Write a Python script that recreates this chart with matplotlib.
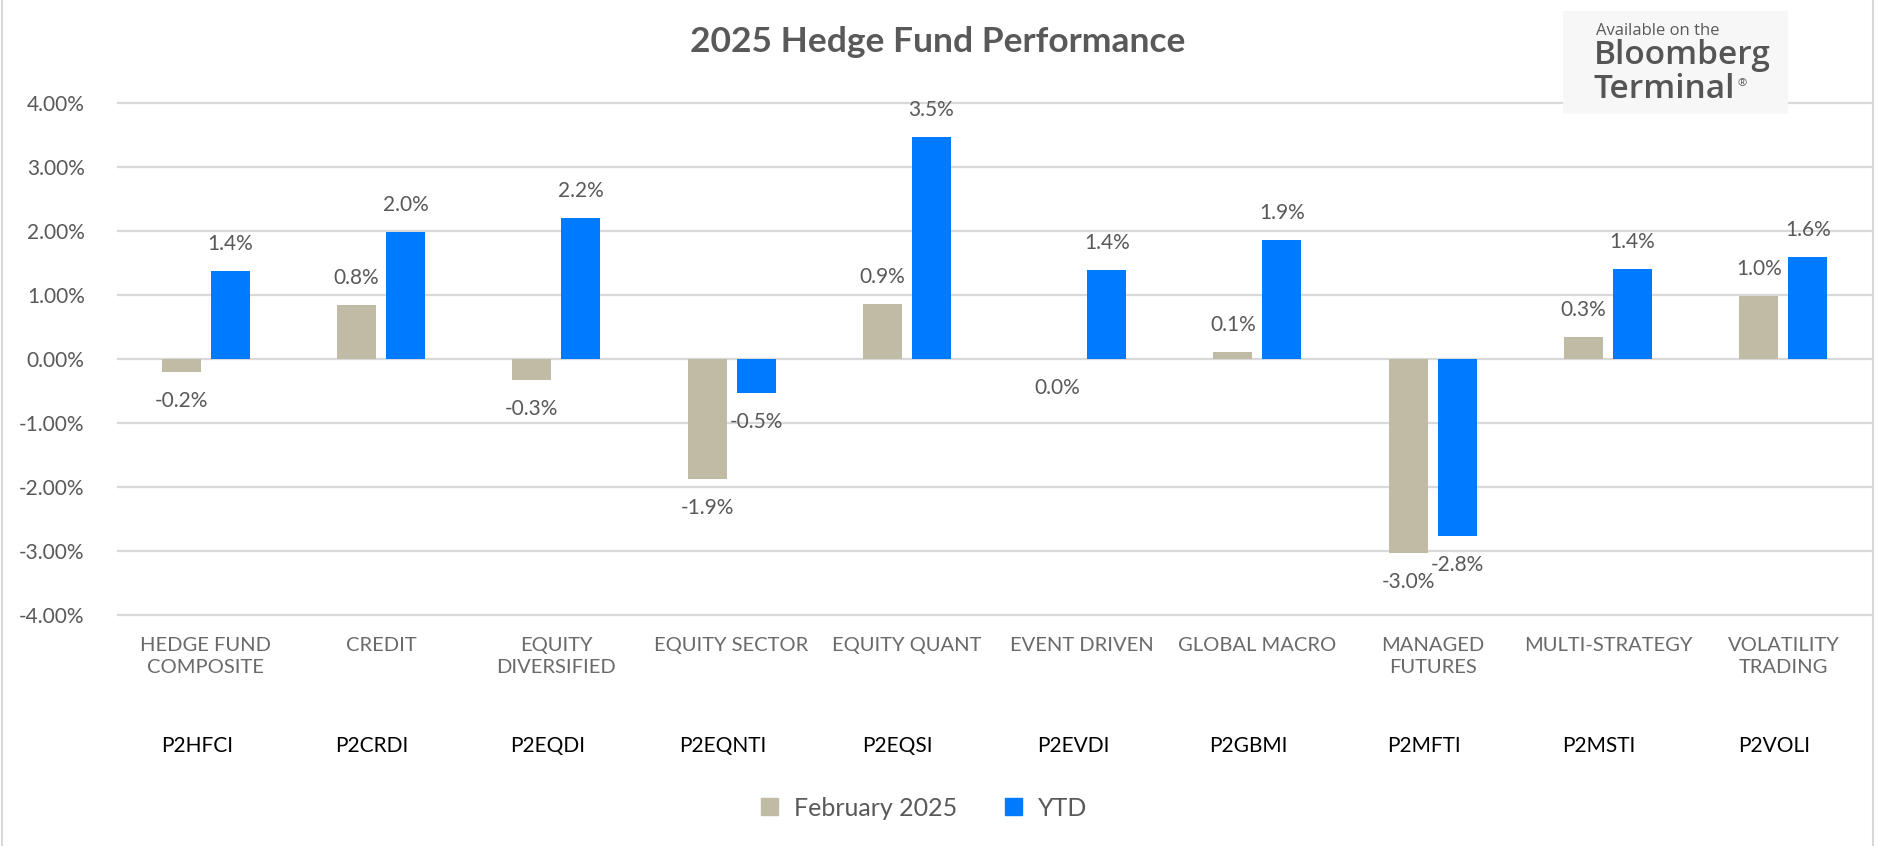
import matplotlib
matplotlib.use("Agg")
import matplotlib.pyplot as plt
import numpy as np
from matplotlib.transforms import blended_transform_factory, ScaledTranslation
from matplotlib.patches import Rectangle, Patch
from matplotlib.lines import Line2D

plt.rcParams['font.family'] = ['Lato', 'DejaVu Sans']

# ---- data ----
categories = ["HEDGE FUND\nCOMPOSITE", "CREDIT", "EQUITY\nDIVERSIFIED", "EQUITY SECTOR",
              "EQUITY QUANT", "EVENT DRIVEN", "GLOBAL MACRO", "MANAGED\nFUTURES",
              "MULTI-STRATEGY", "VOLATILITY\nTRADING"]
tickers = ["P2HFCI", "P2CRDI", "P2EQDI", "P2EQNTI", "P2EQSI", "P2EVDI", "P2GBMI",
           "P2MFTI", "P2MSTI", "P2VOLI"]
feb_2025 = [-0.20, 0.84, -0.33, -1.88, 0.86, 0.0, 0.11, -3.03, 0.34, 0.98]
ytd = [1.37, 1.98, 2.20, -0.53, 3.47, 1.39, 1.86, -2.76, 1.41, 1.59]
yticks = [4, 3, 2, 1, 0, -1, -2, -3, -4]
series_names = ["February 2025", "YTD"]

W, H, DPI = 1878, 846, 100
fig = plt.figure(figsize=(W / DPI, H / DPI), dpi=DPI)
fig.patch.set_facecolor("white")

def fx(px):
    return px / W

def fy(py):
    return (H - py) / H

ax = fig.add_axes([fx(118), fy(615), fx(1871) - fx(118), fy(103) - fy(615)])
ax.set_facecolor("white")

FEB_C = "#C0BBA5"
YTD_C = "#007AFF"
GRID_C = "#D9D9D9"
TXT_C = "#595959"

x = np.arange(len(categories))
bw = 0.2225
off = 0.14

for t in yticks:
    ax.axhline(t, color=GRID_C, lw=1.6, zorder=1, clip_on=False)

b1 = ax.bar(x - off, feb_2025, width=bw, color=FEB_C, zorder=2, label=series_names[0])
b2 = ax.bar(x + off, ytd, width=bw, color=YTD_C, zorder=2, label=series_names[1])

ax.set_xlim(-0.5, len(categories) - 0.5)
ax.set_ylim(-4, 4)
for s in ax.spines.values():
    s.set_visible(False)

ax.set_yticks(yticks)
ax.set_yticklabels([f"{t:.2f}%" for t in yticks], fontsize=15, color=TXT_C)
ax.tick_params(axis="y", length=0, pad=24)

ax.set_xticks(x)
ax.set_xticklabels(categories, fontsize=14.5, color="#6a6a6a", linespacing=1.35)
ax.tick_params(axis="x", length=0, pad=16)

# data labels
for bars, vals in ((b1, feb_2025), (b2, ytd)):
    for rect, v in zip(bars, vals):
        cx = rect.get_x() + rect.get_width() / 2
        if v > 0:
            ax.annotate(f"{v:.1f}%", (cx, v), xytext=(0, 19.5), textcoords="offset points",
                        ha="center", va="center", fontsize=15, color=TXT_C, zorder=4)
        else:
            ax.annotate(f"{v:.1f}%", (cx, v), xytext=(0, -21), textcoords="offset points",
                        ha="center", va="center", fontsize=15, color=TXT_C, zorder=4)

# ticker labels
tr = blended_transform_factory(ax.transData, fig.transFigure) + \
    ScaledTranslation(-9 / DPI, 0, fig.dpi_scale_trans)
for xi, tk in zip(x, tickers):
    ax.text(xi, fy(746), tk, transform=tr, ha="center", va="center",
            fontsize=15, color="black")

# title
fig.text(fx(938), fy(42), "2025 Hedge Fund Performance", ha="center", va="center",
         fontsize=25.5, fontweight="bold", color=TXT_C)

# legend
handles = [Patch(facecolor=FEB_C, edgecolor=FEB_C), Patch(facecolor=YTD_C, edgecolor=YTD_C)]
leg = fig.legend(handles, series_names, loc="center", bbox_to_anchor=(fx(924), fy(808)),
                 ncol=2, frameon=False, fontsize=18, handlelength=0.68, handleheight=0.68,
                 handletextpad=0.64, columnspacing=1.9, labelcolor=TXT_C)

# Bloomberg logo box
LOGO_C = "#555555"
fig.patches.append(Rectangle((fx(1563), fy(114)), fx(1788) - fx(1563), fy(11) - fy(114),
                             transform=fig.transFigure, facecolor="#F7F7F7",
                             edgecolor="none", zorder=5))
fig.text(fx(1596), fy(31), "Available on the", ha="left", va="center", fontsize=12,
         family=["Open Sans", "DejaVu Sans"], color="#5a5a5a", zorder=6)
fig.text(fx(1594), fy(56), "Bloomberg", ha="left", va="center", fontsize=24,
         family=["Open Sans", "DejaVu Sans"], fontweight="semibold", color=LOGO_C, zorder=6)
term = fig.text(fx(1594), fy(89), "Terminal", ha="left", va="center", fontsize=24,
                family=["Open Sans", "DejaVu Sans"], fontweight="semibold", color=LOGO_C, zorder=6)
fig.canvas.draw()
bb = term.get_window_extent(renderer=fig.canvas.get_renderer())
fig.text((bb.x1 + 2) / W, (bb.y1 - 6) / H, "®", ha="left", va="top", fontsize=8,
         family=["Open Sans", "DejaVu Sans"], color=LOGO_C, zorder=6)

# chart border (left / right)
fig.add_artist(Line2D([fx(2), fx(2)], [0, 1], transform=fig.transFigure, color=GRID_C, lw=1.5))
fig.add_artist(Line2D([fx(1873), fx(1873)], [0, 1], transform=fig.transFigure, color=GRID_C, lw=1.5))

fig.savefig("out.png", dpi=DPI, facecolor="white")
